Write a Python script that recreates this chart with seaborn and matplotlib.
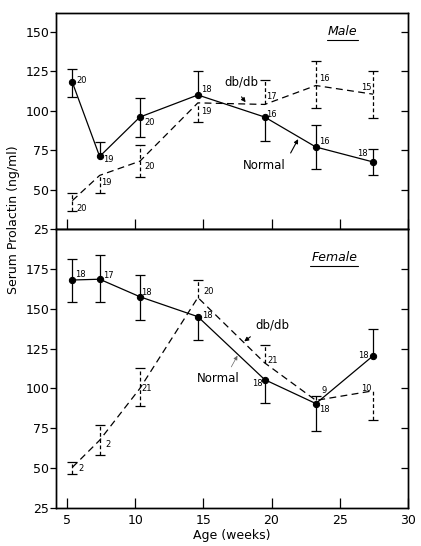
# Serum prolactin vs age for normal and db/db mice, male (top) and female (bottom)
import matplotlib.pyplot as plt
import numpy as np
import pandas as pd
import seaborn as sns
from matplotlib.lines import Line2D

# ages (weeks) at which the animals were sampled
age = [5.4, 7.4, 10.35, 14.6, 19.5, 23.25, 27.45]

# male, normal (mean, lower / upper error, n)
male_normal = [118, 71, 96, 110, 96, 77, 67.5]
male_normal_lo = [9.5, 0, 12.5, 0, 15, 14, 8.5]
male_normal_hi = [8.5, 9, 12, 15, 0, 14, 8]
male_normal_n = ['20', '19', '20', '18', '16', '16', '18']

# male, db/db
male_dbdb = [43, 59, 68, 105, 104, 116, 110.5]
male_dbdb_lo = [6.5, 11, 10, 12, 0, 14.5, 15]
male_dbdb_hi = [5, 0, 10, 0, 15.5, 15.5, 15]
male_dbdb_n = ['20', '19', '20', '19', '17', '16', '15']

# female, normal
female_normal = [168, 168.5, 157.5, 145, 105.5, 90.5, 120.5]
female_normal_lo = [13.5, 14.5, 14.5, 14.5, 14.5, 17, 0]
female_normal_hi = [13, 15, 13.5, 0, 0, 0, 17]
female_normal_n = ['18', '17', '18', '18', '18', '18', '18']

# female, db/db
female_dbdb = [50.5, 67.5, 100, 157, 116, 92.5, 98.5]
female_dbdb_lo = [4, 9.5, 11, 0, 0, 0, 18.5]
female_dbdb_hi = [3.5, 9.5, 12.5, 11, 11, 3, 0]
female_dbdb_n = ['2', '2', '21', '20', '21', '9', '10']

# where each n label sits relative to its point (points)
label_offsets = {
    ('Male', 'Normal'): [(7, 1), (6, -2), (7, -4), (6, 4), (5, 2), (6, 4), (-8, 6)],
    ('Male', 'db/db'): [(7, -6), (5, -5), (7, -4), (6, -6), (5, 6), (6, 5), (-5, 5)],
    ('Female', 'Normal'): [(6, 4), (6, 3), (5, 3), (7, 1), (-5, -3), (6, -4), (-7, 0)],
    ('Female', 'db/db'): [(6, -1), (6, -3), (5, 0), (8, 4), (6, 2), (6, 7), (-5, 2)],
}

rows = []
for sex, group, mean, lo, hi, n in [
    ('Male', 'Normal', male_normal, male_normal_lo, male_normal_hi, male_normal_n),
    ('Male', 'db/db', male_dbdb, male_dbdb_lo, male_dbdb_hi, male_dbdb_n),
    ('Female', 'Normal', female_normal, female_normal_lo, female_normal_hi, female_normal_n),
    ('Female', 'db/db', female_dbdb, female_dbdb_lo, female_dbdb_hi, female_dbdb_n),
]:
    for i in range(len(age)):
        rows.append(dict(sex=sex, group=group, age=age[i], mean=mean[i], lo=lo[i], hi=hi[i], n=n[i], k=i))
df = pd.DataFrame(rows)

sns.set_style('ticks')
plt.rcParams['font.family'] = ['DejaVu Sans']
plt.rcParams.update({'axes.linewidth': 1.0, 'axes.edgecolor': 'k', 'text.color': 'k',
                     'axes.labelcolor': 'k', 'xtick.color': 'k', 'ytick.color': 'k'})

fig = plt.figure(figsize=(4.21, 5.46), dpi=100)
ax_m = fig.add_axes([0.133, 0.5806, 0.836, 0.3956])
ax_f = fig.add_axes([0.133, 0.0696, 0.836, 0.511])
axes = {'Male': ax_m, 'Female': ax_f}

dash = (0, (5.5, 3.5))
for (sex, group), sub in df.groupby(['sex', 'group'], sort=False):
    ax = axes[sex]
    if group == 'Normal':
        sns.lineplot(data=sub, x='age', y='mean', ax=ax, color='k', lw=0.9, marker='o',
                     markersize=4.5, markeredgecolor='k', errorbar=None, zorder=3)
        bar_ls = '-'
    else:
        sns.lineplot(data=sub, x='age', y='mean', ax=ax, color='k', lw=0.9,
                     linestyle=dash, errorbar=None, zorder=3)
        bar_ls = (0, (3, 2))
    # error bars, only on the sides that were drawn in the figure
    ax.vlines(sub['age'], sub['mean'] - sub['lo'], sub['mean'] + sub['hi'],
              colors='k', lw=0.9, linestyles=bar_ls)
    top = sub[sub['hi'] > 0]
    bot = sub[sub['lo'] > 0]
    ax.plot(top['age'], top['mean'] + top['hi'], ls='none', marker='_', ms=7, mew=0.9, color='k')
    ax.plot(bot['age'], bot['mean'] - bot['lo'], ls='none', marker='_', ms=7, mew=0.9, color='k')
    # sample sizes
    offs = label_offsets[(sex, group)]
    for _, r in sub.iterrows():
        ax.annotate(r['n'], (r['age'], r['mean']), xytext=offs[r['k']], textcoords='offset points',
                    ha='center', va='center', fontsize=6)

# curve labels with little arrows
arrow = dict(arrowstyle='-|>', lw=0.8, color='k', mutation_scale=6, shrinkA=0, shrinkB=0)
ax_m.text(17.78, 118.5, 'db/db', ha='center', va='center', fontsize=8.5)
ax_m.annotate('', xy=(18.1, 105.4), xytext=(17.8, 108.8), arrowprops=arrow)
ax_m.text(19.5, 65, 'Normal', ha='center', va='center', fontsize=8.5)
ax_m.annotate('', xy=(21.95, 82), xytext=(21.4, 73.2), arrowprops=arrow)

ax_f.text(20.05, 139.7, 'db/db', ha='center', va='center', fontsize=8.5)
ax_f.annotate('', xy=(18.0, 129.5), xytext=(18.45, 132.4), arrowprops=arrow)
ax_f.text(16.1, 106, 'Normal', ha='center', va='center', fontsize=8.5)
ax_f.annotate('', xy=(17.5, 120.5), xytext=(17.05, 113.5),
              arrowprops=dict(arrowstyle='-|>', lw=0.5, color='0.4', mutation_scale=6, shrinkA=0, shrinkB=0))

titles = [ax_m.text(25.2, 150, 'Male', ha='center', va='center', fontsize=9, style='italic'),
          ax_f.text(24.6, 182, 'Female', ha='center', va='center', fontsize=9, style='italic')]

# axes, ticks
for ax, top_val, yt in [(ax_m, 162, [25, 50, 75, 100, 125, 150]),
                        (ax_f, 200, [25, 50, 75, 100, 125, 150, 175])]:
    ax.set_xlim(4.2, 30)
    ax.set_ylim(25, top_val)
    ax.set_yticks(yt)
    ax.set_xticks([5, 10, 15, 20, 25, 30])
    ax.set_xlabel('')
    ax.set_ylabel('')
    ax.tick_params(axis='y', direction='out', length=4, width=0.9, labelsize=9, pad=1)
    ax.tick_params(axis='x', direction='in', length=7, width=0.9, labelsize=9, pad=4)
    for s in ax.spines.values():
        s.set_visible(True)
    tw = ax.twinx()
    tw.set_ylim(ax.get_ylim())
    tw.set_yticks(yt[1:])
    tw.tick_params(axis='y', direction='in', length=5, width=0.9, labelright=False)

ax_m.tick_params(axis='x', labelbottom=False)
ax_f.set_xlabel('Age (weeks)', fontsize=9, labelpad=2)
fig.text(0.033, 1 - 220 / 546, 'Serum Prolactin (ng/ml)', rotation=90, ha='center', va='center', fontsize=9)

# underline Male / Female
fig.canvas.draw()
inv = fig.transFigure.inverted()
for t in titles:
    bb = t.get_window_extent()
    (x0, y0), (x1, _) = inv.transform([(bb.x0 - 1, bb.y0 - 2), (bb.x1 + 1, bb.y0 - 2)])
    fig.add_artist(Line2D([x0, x1], [y0, y0], transform=fig.transFigure, color='k', lw=0.8))

fig.savefig('out.png', dpi=100)
